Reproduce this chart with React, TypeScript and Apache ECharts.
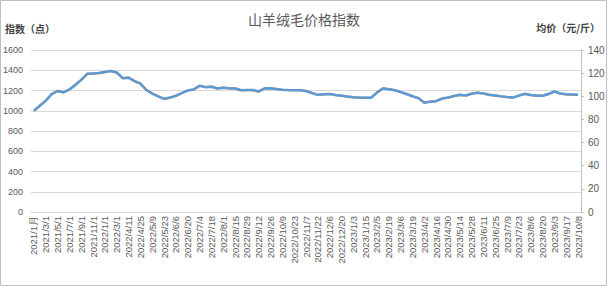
import React, { useEffect, useRef } from "react";
import * as echarts from "echarts";

const categories: string[] = [
  "2021/1月", "2021/2/1", "2021/3/1", "2021/4/1", "2021/5/1", "2021/6/1", "2021/7/1", "2021/8/1",
  "2021/9/1", "2021/10/1", "2021/11/1", "2021/12/1", "2022/1/1", "2022/2/1", "2022/3/1", "2022/4/4",
  "2022/4/11", "2022/4/18", "2022/4/25", "2022/5/2", "2022/5/9", "2022/5/16", "2022/5/23", "2022/5/30",
  "2022/6/6", "2022/6/13", "2022/6/20", "2022/6/27", "2022/7/4", "2022/7/11", "2022/7/18", "2022/7/25",
  "2022/8/1", "2022/8/8", "2022/8/15", "2022/8/22", "2022/8/29", "2022/9/5", "2022/9/12", "2022/9/19",
  "2022/9/26", "2022/10/3", "2022/10/9", "2022/10/16", "2022/10/23", "2022/10/31", "2022/11/7", "2022/11/14",
  "2022/11/22", "2022/11/29", "2022/12/6", "2022/12/13", "2022/12/20", "2022/12/27", "2023/1/3", "2023/1/9",
  "2023/1/15", "2023/1/29", "2023/2/5", "2023/2/12", "2023/2/19", "2023/2/26", "2023/3/6", "2023/3/12",
  "2023/3/19", "2023/3/26", "2023/4/2", "2023/4/9", "2023/4/16", "2023/4/23", "2023/4/30", "2023/5/7",
  "2023/5/14", "2023/5/21", "2023/5/28", "2023/6/4", "2023/6/11", "2023/6/18", "2023/6/25", "2023/7/2",
  "2023/7/9", "2023/7/16", "2023/7/23", "2023/7/30", "2023/8/6", "2023/8/13", "2023/8/20", "2023/8/27",
  "2023/9/3", "2023/9/10", "2023/9/17", "2023/9/24", "2023/10/8",
];

const indexValues: number[] = [
  1000, 1050, 1100, 1165, 1195, 1182, 1210, 1255, 1305, 1365, 1368, 1372, 1382, 1393, 1377, 1322,
  1327, 1292, 1268, 1205, 1170, 1143, 1117, 1130, 1148, 1175, 1200, 1210, 1247, 1233, 1237, 1220,
  1227, 1222, 1220, 1203, 1205, 1205, 1190, 1220, 1222, 1215, 1207, 1204, 1203, 1203, 1195, 1175,
  1157, 1162, 1165, 1155, 1148, 1140, 1133, 1130, 1128, 1128, 1180, 1220, 1212, 1203, 1185, 1165,
  1143, 1125, 1080, 1090, 1095, 1120, 1130, 1145, 1158, 1150, 1168, 1178, 1170, 1158, 1150, 1142,
  1135, 1130, 1150, 1167, 1155, 1148, 1148, 1165, 1190, 1170, 1162, 1160, 1157,
];

const priceValues: number[] = [
  87.5, 91.9, 96.3, 101.9, 104.6, 103.4, 105.9, 110.0, 114.3, 119.4, 119.7, 120.1, 120.9, 122.0, 120.5, 115.7,
  116.2, 113.1, 111.0, 105.4, 102.4, 100.0, 97.7, 98.9, 100.5, 102.9, 105.0, 105.9, 109.1, 107.9, 108.3, 106.8,
  107.4, 106.9, 106.8, 105.3, 105.4, 105.4, 104.1, 106.8, 106.9, 106.3, 105.6, 105.4, 105.3, 105.3, 104.6, 102.8,
  101.2, 101.7, 102.0, 101.1, 100.5, 99.8, 99.1, 98.9, 98.7, 98.7, 103.3, 106.9, 106.1, 105.3, 103.7, 101.9,
  100.0, 98.4, 94.5, 95.4, 95.8, 98.0, 98.9, 100.2, 101.3, 100.6, 102.3, 103.1, 102.4, 101.3, 100.6, 99.9,
  99.3, 98.9, 100.7, 102.1, 101.1, 100.5, 100.5, 101.9, 104.1, 102.4, 101.7, 101.5, 101.2,
];

const titleText = "山羊绒毛价格指数";
const leftAxisTitle = "指数（点）";
const rightAxisTitle = "均价（元/斤）";

export default function App() {
  const ref = useRef<HTMLDivElement>(null);
  useEffect(() => {
    document.body.style.margin = "0";
    if (!ref.current) return;
    const chart = echarts.init(ref.current, undefined, { renderer: "svg" });
    const labelColor = "#595959";
    const fontFamily = "Liberation Sans, Arial, sans-serif";
    chart.setOption({
      animation: false,
      backgroundColor: "#ffffff",
      title: {
        text: titleText,
        left: "center",
        top: 7,
        textStyle: {
          fontSize: 14,
          fontWeight: "normal",
          color: "#595959",
          fontFamily: "Noto Sans CJK SC",
        },
      },
      graphic: [
        {
          type: "rect",
          shape: { x: 0.5, y: 0.5, width: 606, height: 285 },
          style: { fill: "none", stroke: "#bfbfbf", lineWidth: 1 },
          silent: true,
        },
        {
          type: "text",
          left: 5,
          top: 23,
          style: {
            text: leftAxisTitle,
            fontSize: 10,
            fontWeight: "bold",
            fill: "#404040",
            fontFamily: "Noto Sans CJK SC",
          },
        },
        {
          type: "text",
          right: 8,
          top: 22,
          style: {
            text: rightAxisTitle,
            fontSize: 10,
            fontWeight: "bold",
            fill: "#404040",
            fontFamily: "Noto Sans CJK SC",
          },
        },
      ],
      grid: { left: 30, right: 27, top: 50, bottom: 75, containLabel: false },
      xAxis: {
        type: "category",
        data: categories,
        boundaryGap: true,
        axisLine: { show: true, lineStyle: { color: "#d9d9d9", width: 1 } },
        axisTick: { show: false },
        axisLabel: {
          interval: 1,
          rotate: 90,
          fontSize: 9.5,
          color: labelColor,
          fontFamily,
          margin: 4,
        },
        splitLine: { show: false },
      },
      yAxis: [
        {
          type: "value",
          min: 0,
          max: 1600,
          interval: 200,
          position: "left",
          axisLine: { show: false },
          axisTick: { show: false },
          axisLabel: {
            fontSize: 9,
            color: labelColor,
            fontFamily,
            margin: 8,
            formatter: (v: number) => String(v),
          },
          splitLine: { show: true, lineStyle: { color: "#d9d9d9", width: 1 } },
        },
        {
          type: "value",
          min: 0,
          max: 140,
          interval: 20,
          position: "right",
          axisLine: { show: true, lineStyle: { color: "#bfbfbf", width: 1 } },
          axisTick: { show: true, length: 3, lineStyle: { color: "#bfbfbf" } },
          axisLabel: {
            fontSize: 10,
            color: labelColor,
            fontFamily,
            margin: 7,
            formatter: (v: number) => String(v),
          },
          splitLine: { show: false },
        },
      ],
      series: [
        {
          name: "均价",
          type: "line",
          yAxisIndex: 1,
          data: priceValues,
          symbol: "none",
          lineStyle: { color: "#ED7D31", width: 2.25 },
          z: 2,
        },
        {
          name: "指数",
          type: "line",
          yAxisIndex: 0,
          data: indexValues,
          symbol: "none",
          lineStyle: { color: "#5B9BD5", width: 2.5 },
          z: 3,
        },
      ],
    });
    return () => chart.dispose();
  }, []);
  return <div ref={ref} style={{ width: 608, height: 287 }} />;
}
